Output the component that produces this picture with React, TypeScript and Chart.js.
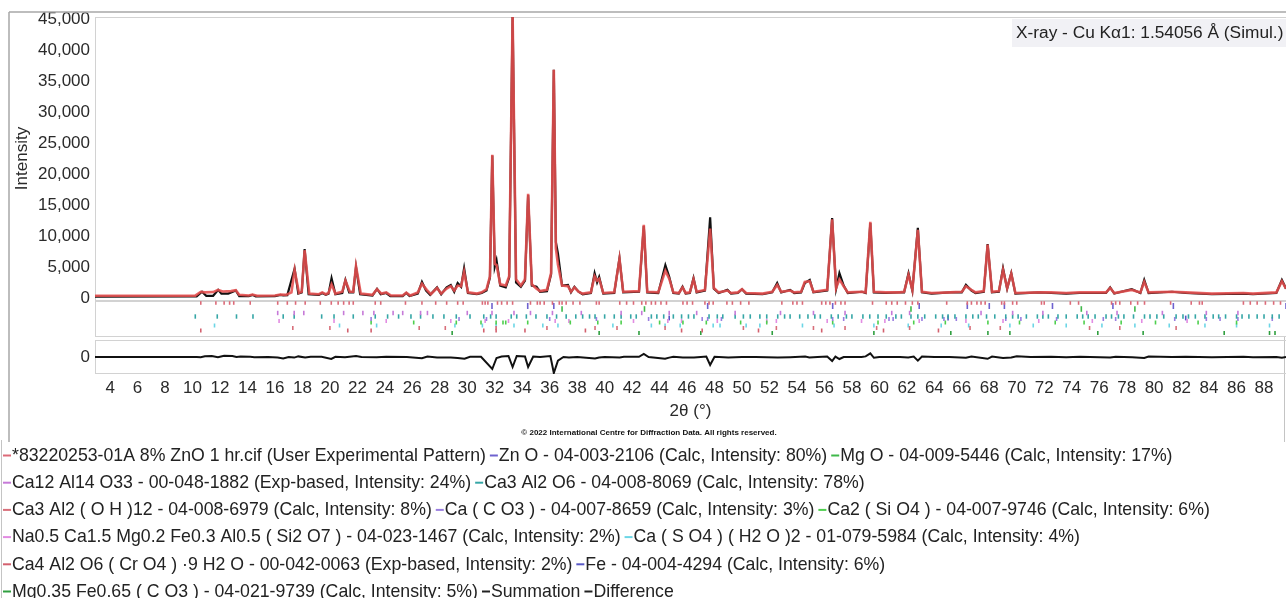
import React, { useEffect, useRef } from 'react';
import { Chart, registerables } from 'chart.js';

Chart.register(...registerables);

const FONT = '"Liberation Sans", Arial, Helvetica, sans-serif';

// ---------- axis ticks ----------
const X_TICKS = [4, 6, 8, 10, 12, 14, 16, 18, 20, 22, 24, 26, 28, 30, 32, 34, 36, 38, 40, 42, 44, 46, 48, 50, 52, 54, 56, 58, 60, 62, 64, 66, 68, 70, 72, 74, 76, 78, 80, 82, 84, 86, 88];
const Y_TICKS = [0, 5000, 10000, 15000, 20000, 25000, 30000, 35000, 40000, 45000];
const DIFF_TICKS = [0];

// ---------- patterns: [2θ, intensity] ----------
const EXP_PATTERN: [number, number][] = [
  [2.9, 350], [10.2, 380], [10.6, 1000], [10.9, 900], [11.5, 950], [11.85, 1300], [12.2, 1050], [12.8, 1100], [13.15, 1250], [13.4, 500],
  [14.1, 400], [14.36, 550], [14.7, 350], [16.0, 400], [16.4, 550], [16.8, 500], [17.2, 900], [17.43, 4500], [17.75, 800], [17.95, 1000],
  [18.16, 7700], [18.5, 700], [19.2, 600], [19.44, 900], [19.7, 600], [19.9, 800], [20.12, 2200], [20.4, 700], [20.9, 1000], [21.13, 2800],
  [21.45, 1000], [21.7, 1000], [21.9, 5100], [22.25, 700], [23.1, 500], [23.43, 1400], [23.75, 700], [24.1, 900], [24.45, 400], [25.3, 400],
  [25.56, 850], [25.85, 400], [26.4, 900], [26.7, 2300], [27.05, 1300], [27.35, 600], [27.8, 1600], [28.1, 700], [28.5, 1500], [28.8, 1900],
  [29.05, 1200], [29.3, 2000], [29.55, 1900], [29.77, 4200], [30.05, 900], [30.7, 700], [31.05, 900], [31.4, 1400], [31.65, 3500], [31.82, 23100],
  [32.0, 5500], [32.13, 5300], [32.4, 2200], [32.8, 2000], [33.05, 3500], [33.3, 45600], [33.55, 3000], [33.9, 2000], [34.2, 3000], [34.43, 16800],
  [34.7, 2200], [35.04, 1500], [35.3, 1100], [35.8, 1300], [36.1, 4000], [36.3, 36800], [36.45, 8000], [36.6, 5400], [36.9, 2000], [37.33, 1900],
  [37.55, 1000], [37.8, 1700], [38.1, 1000], [38.4, 700], [39.0, 900], [39.27, 3500], [39.45, 2800], [39.6, 3100], [39.9, 800], [40.7, 900],
  [41.08, 6300], [41.35, 1000], [42.5, 1100], [42.85, 11800], [43.1, 1000], [43.9, 900], [44.42, 4400], [44.7, 3100], [45.0, 900], [45.4, 800],
  [45.67, 1700], [45.9, 800], [46.2, 900], [46.47, 3000], [46.7, 1000], [47.3, 1300], [47.68, 11200], [47.95, 1600], [48.3, 900], [48.94, 1200],
  [49.2, 800], [49.7, 900], [50.0, 1400], [50.3, 800], [51.5, 700], [52.2, 1000], [52.56, 2100], [52.85, 1000], [53.5, 1200], [53.8, 900],
  [54.3, 1000], [54.57, 2600], [54.93, 2700], [55.2, 1000], [56.2, 1300], [56.56, 12700], [56.85, 1600], [57.09, 3000], [57.4, 1900], [57.7, 900],
  [58.73, 1000], [59.0, 900], [59.34, 12300], [59.6, 1000], [60.47, 900], [61.47, 900], [61.8, 1000], [62.12, 3700], [62.4, 1300], [62.8, 11000],
  [63.1, 1000], [63.8, 800], [65.14, 900], [66.0, 1000], [66.3, 1900], [66.7, 1300], [67.0, 900], [67.6, 1100], [67.88, 8600], [68.2, 1000],
  [68.7, 1100], [69.0, 4500], [69.3, 1600], [69.6, 3900], [69.9, 800], [71.66, 900], [72.5, 900], [73.6, 800], [74.57, 900], [76.5, 900],
  [76.8, 1600], [77.1, 800], [78.37, 1300], [79.0, 900], [79.28, 2600], [79.6, 900], [81.3, 1000], [82.3, 900], [84.2, 700], [86.5, 800],
  [87.2, 700], [88.9, 900], [89.3, 2700], [89.6, 1500],
];

const SUM_PATTERN: [number, number][] = [
  [2.9, 200], [10.3, 250], [10.69, 1000], [11.0, 350], [11.5, 350], [11.87, 1300], [12.1, 700], [12.6, 700], [13.15, 1200], [13.4, 300],
  [14.1, 300], [14.36, 500], [14.6, 250], [16.0, 300], [16.4, 500], [16.6, 400], [16.9, 450], [17.43, 4700], [17.7, 700], [17.95, 900],
  [18.16, 7900], [18.45, 600], [19.2, 500], [19.44, 800], [19.7, 500], [19.9, 700], [20.12, 3200], [20.4, 600], [20.9, 800], [21.13, 2900],
  [21.4, 900], [21.7, 900], [21.9, 5000], [22.2, 600], [23.1, 400], [23.43, 1450], [23.7, 600], [24.1, 800], [24.4, 300], [25.3, 300],
  [25.56, 800], [25.8, 300], [26.4, 700], [26.7, 2600], [27.0, 1200], [27.3, 500], [27.8, 1700], [28.1, 600], [28.5, 1700], [28.8, 2100],
  [29.05, 1000], [29.3, 2400], [29.55, 1800], [29.77, 4800], [30.05, 800], [30.7, 600], [31.05, 800], [31.4, 1200], [31.65, 3300], [31.82, 23000],
  [32.0, 5000], [32.13, 6100], [32.4, 2000], [32.8, 1700], [33.05, 3300], [33.3, 45600], [33.55, 2500], [33.9, 1800], [34.2, 2800], [34.43, 16600],
  [34.7, 2000], [35.04, 1800], [35.3, 1000], [35.8, 1100], [36.1, 3800], [36.3, 36800], [36.45, 9000], [36.6, 7200], [36.9, 2000], [37.33, 2100],
  [37.55, 900], [37.8, 1800], [38.1, 1000], [38.4, 600], [39.0, 800], [39.27, 4000], [39.45, 2500], [39.6, 3400], [39.9, 700], [40.7, 800],
  [41.08, 6400], [41.35, 900], [42.5, 1000], [42.85, 11600], [43.1, 900], [43.9, 800], [44.42, 5300], [44.7, 3400], [45.0, 800], [45.4, 700],
  [45.67, 1800], [45.9, 700], [46.2, 800], [46.47, 3200], [46.7, 900], [47.3, 1200], [47.68, 13000], [47.95, 1500], [48.3, 800], [48.94, 1300],
  [49.2, 700], [49.7, 800], [50.0, 1400], [50.3, 700], [51.5, 600], [52.2, 900], [52.56, 2400], [52.85, 900], [53.5, 1300], [53.8, 800],
  [54.3, 900], [54.57, 2400], [54.93, 2900], [55.2, 900], [56.2, 1200], [56.56, 12900], [56.85, 1500], [57.09, 4000], [57.4, 2000], [57.7, 800],
  [58.73, 1000], [59.0, 800], [59.34, 12100], [59.6, 900], [60.47, 800], [61.47, 900], [61.8, 900], [62.12, 4000], [62.4, 1200], [62.8, 11300],
  [63.1, 900], [63.8, 700], [65.14, 900], [66.0, 900], [66.3, 2100], [66.7, 1200], [67.0, 800], [67.6, 1000], [67.88, 8700], [68.2, 900],
  [68.7, 1000], [69.0, 4800], [69.3, 1500], [69.6, 4000], [69.9, 700], [71.66, 900], [72.5, 800], [73.6, 700], [74.57, 800], [76.5, 800],
  [76.8, 1700], [77.1, 700], [78.37, 1400], [79.0, 800], [79.28, 2900], [79.6, 800], [81.3, 1000], [82.3, 800], [84.2, 600], [86.5, 700],
  [87.2, 600], [88.9, 800], [89.3, 2900], [89.6, 1500],
];

const DIFF_PATTERN: [number, number][] = [
  [2.9, 0], [10.3, 0], [10.6, -100], [10.9, 400], [11.4, 500], [11.85, -100], [12.3, 600], [12.9, 500], [13.2, 0], [13.5, 200],
  [14.2, 100], [14.5, -100], [15.5, 0], [16.2, -200], [16.6, -700], [17.0, 0], [17.4, -300], [17.7, 300], [18.2, -300], [18.6, 100],
  [19.4, 100], [20.1, -1000], [20.4, 100], [21.1, -100], [21.9, 500], [22.3, 0], [23.4, -100], [24.1, 100], [25.6, 0], [26.7, -600],
  [27.1, 200], [27.8, -200], [28.5, -300], [28.8, -300], [29.3, -500], [29.8, -900], [30.2, 100], [31.0, 100], [31.82, -6000], [32.13, -500],
  [32.5, 200], [33.0, 500], [33.3, -5000], [33.6, 500], [34.2, 300], [34.43, -5000], [34.8, 200], [35.3, 0], [36.05, 500], [36.3, -8000],
  [36.6, -1800], [37.0, 0], [37.4, -300], [38.0, 0], [39.3, -700], [39.6, -300], [40.0, 0], [41.1, -200], [41.4, 100], [42.5, 100],
  [42.85, 1500], [43.2, 0], [44.4, -900], [44.7, -300], [45.0, 100], [45.7, -200], [46.5, -300], [47.0, 0], [47.4, 200], [47.68, -4000],
  [48.0, 100], [49.0, -200], [50.0, 0], [51.0, 0], [52.6, -300], [53.5, -100], [54.6, 200], [54.9, -200], [55.5, 0], [56.2, 200],
  [56.56, -2000], [56.8, 200], [57.09, -1000], [57.4, 0], [58.7, 0], [59.0, 300], [59.34, 1800], [59.6, -400], [60.0, 0], [61.5, 0],
  [62.1, -300], [62.5, 200], [62.8, -1800], [63.1, 200], [64.0, 0], [65.1, 0], [66.3, -400], [66.7, 200], [67.88, -900], [68.2, 200],
  [69.0, -500], [69.6, -200], [70.0, 400], [71.0, 0], [72.5, 100], [73.6, -100], [74.6, 100], [76.8, -200], [77.2, 100], [78.4, -100],
  [79.28, -500], [79.6, 200], [81.3, 0], [82.3, 100], [84.2, -100], [86.5, 100], [87.2, -100], [88.9, 0], [89.3, -400], [89.6, 0],
];

// ---------- reference stick positions (2θ) ----------
const EXP_PEAKS = [10.6, 11.7, 12.3, 12.7, 13.0, 14.2, 16.2, 16.9, 17.5, 18.2, 19.3, 20.1, 20.6, 21.0, 21.4, 21.7, 23.3, 23.7, 25.5, 26.7, 27.7, 28.5, 29.3, 29.7, 31.1, 31.3, 31.5, 32.2, 32.5, 32.9, 33.3, 34.6, 35.1, 35.3, 35.6, 36.2, 36.7, 36.9, 37.2, 37.7, 38.2, 39.4, 39.6, 41.1, 41.6, 42.1, 42.7, 43.0, 43.4, 43.7, 44.1, 44.5, 45.7, 46.0, 46.4, 47.3, 47.6, 47.9, 48.9, 49.3, 49.9, 50.5, 52.9, 53.7, 54.0, 54.4, 55.8, 56.1, 56.4, 56.8, 57.2, 57.5, 59.5, 60.5, 60.9, 61.3, 61.9, 62.4, 62.8, 64.9, 66.4, 66.7, 67.1, 67.4, 67.7, 68.9, 69.1, 69.7, 70.0, 71.8, 72.0, 73.9, 74.5, 76.9, 77.2, 77.5, 78.3, 78.8, 79.3, 81.2, 82.7, 83.3, 83.5, 86.5, 87.0, 87.5, 88.1, 88.7, 89.2];
const ZNO_PEAKS = [31.8, 34.4, 36.3, 47.5, 56.6, 62.9, 66.4, 68.0, 69.1, 72.6, 77.0, 81.4, 89.6];
const MGO_PEAKS = [36.9, 42.9, 62.3, 74.7, 78.6];
const MAYENITE_PEAKS = [16.2, 17.4, 18.1, 21.0, 22.4, 23.2, 24.6, 25.3, 26.6, 27.1, 30.0, 31.8, 33.4, 34.6, 36.2, 38.3, 41.2, 42.7, 44.7, 46.7, 49.5, 52.8, 55.2, 57.5, 60.9, 62.2, 67.4, 69.7, 71.9, 75.1, 77.3, 80.6, 83.8, 86.1];
const C3A_PEAKS = [10.2, 11.8, 13.2, 14.4, 16.6, 17.4, 19.4, 20.3, 21.7, 23.3, 24.2, 25.0, 25.9, 26.6, 27.5, 28.3, 29.2, 30.2, 31.2, 31.7, 32.1, 33.2, 33.6, 34.3, 35.0, 35.8, 36.5, 37.2, 37.9, 38.4, 38.9, 39.3, 40.0, 40.7, 41.2, 41.9, 42.3, 43.4, 43.8, 44.3, 45.0, 45.6, 46.1, 46.5, 47.6, 48.2, 48.6, 49.5, 50.1, 50.6, 51.3, 51.8, 52.6, 53.1, 53.5, 54.2, 54.8, 55.3, 55.7, 56.5, 57.0, 57.6, 58.0, 58.8, 59.3, 59.9, 60.5, 61.2, 61.6, 62.3, 62.8, 63.3, 64.1, 64.6, 65.0, 65.5, 66.3, 66.8, 67.2, 67.8, 68.4, 69.2, 69.7, 70.1, 70.7, 71.5, 71.9, 72.3, 73.0, 73.6, 74.4, 74.8, 75.2, 75.7, 76.5, 76.9, 77.4, 77.8, 78.5, 79.3, 79.7, 80.2, 80.7, 81.6, 82.1, 82.5, 83.0, 83.7, 84.3, 84.7, 85.2, 86.0, 86.4, 86.9, 87.5, 88.0, 88.6, 89.1];
const KATOITE_PEAKS = [17.3, 20.0, 26.5, 28.4, 32.1, 35.8, 39.3, 40.9, 44.4, 50.1, 52.5, 55.2, 57.5, 59.8, 62.2, 66.6, 68.8, 75.3, 77.5, 81.6];
const CALCITE_PEAKS = [23.0, 29.4, 31.4, 36.0, 39.4, 43.2, 47.1, 47.5, 48.5, 56.6, 57.4, 60.7, 61.0, 63.1, 64.7, 65.6, 69.2, 70.3, 72.9, 76.3, 77.2, 81.5, 83.8, 84.8, 86.1, 88.6];
const C2S_PEAKS = [23.0, 26.1, 29.2, 31.0, 32.1, 32.6, 32.8, 34.4, 37.5, 39.5, 41.2, 44.0, 45.7, 47.4, 49.9, 51.8, 56.6, 59.9, 62.5, 64.8, 67.9, 70.2, 72.8, 74.9, 77.6, 80.1, 83.2, 86.0];
const MELILITE_PEAKS = [16.3, 20.3, 24.1, 28.8, 31.3, 33.0, 36.4, 37.4, 42.1, 44.6, 45.6, 48.2, 51.8, 52.5, 56.2, 58.7, 60.4, 62.9, 66.3, 69.0, 71.6, 75.5, 79.1, 82.4];
const GYPSUM_PEAKS = [11.6, 20.7, 23.4, 29.1, 31.1, 32.1, 33.4, 35.5, 36.6, 40.6, 43.4, 44.4, 45.5, 47.9, 48.4, 50.3, 51.3, 54.4, 56.7, 59.6, 62.1, 64.5, 66.5, 69.5, 71.2, 73.6, 76.2, 78.6, 81.1, 83.7, 86.0, 88.4];
const CR_AFM_PEAKS = [10.6, 21.3, 23.0, 31.2, 32.1, 34.2, 38.6, 45.6, 47.1, 51.2, 55.8, 60.3, 64.3];
const FE_PEAKS = [44.7, 65.0, 82.3];
const MGFE_CARB_PEAKS = [28.9, 39.6, 42.5, 47.0, 52.2, 59.6, 65.2, 67.9, 69.5, 75.9, 79.2, 85.1, 88.4, 88.8];

// ---------- phases (legend order) ----------
const PHASE_NAMES = [
  '*83220253-01A 8% ZnO 1 hr.cif (User Experimental Pattern)',
  'Zn O - 04-003-2106 (Calc, Intensity: 80%)',
  'Mg O - 04-009-5446 (Calc, Intensity: 17%)',
  'Ca12 Al14 O33 - 00-048-1882 (Exp-based, Intensity: 24%)',
  'Ca3 Al2 O6 - 04-008-8069 (Calc, Intensity: 78%)',
  'Ca3 Al2 ( O H )12 - 04-008-6979 (Calc, Intensity: 8%)',
  'Ca ( C O3 ) - 04-007-8659 (Calc, Intensity: 3%)',
  'Ca2 ( Si O4 ) - 04-007-9746 (Calc, Intensity: 6%)',
  'Na0.5 Ca1.5 Mg0.2 Fe0.3 Al0.5 ( Si2 O7 ) - 04-023-1467 (Calc, Intensity: 2%)',
  'Ca ( S O4 ) ( H2 O )2 - 01-079-5984 (Calc, Intensity: 4%)',
  'Ca4 Al2 O6 ( Cr O4 ) ·9 H2 O - 00-042-0063 (Exp-based, Intensity: 2%)',
  'Fe - 04-004-4294 (Calc, Intensity: 6%)',
  'Mg0.35 Fe0.65 ( C O3 ) - 04-021-9739 (Calc, Intensity: 5%)',
];
const PHASE_PEAKS = [EXP_PEAKS, ZNO_PEAKS, MGO_PEAKS, MAYENITE_PEAKS, C3A_PEAKS, KATOITE_PEAKS, CALCITE_PEAKS, C2S_PEAKS, MELILITE_PEAKS, GYPSUM_PEAKS, CR_AFM_PEAKS, FE_PEAKS, MGFE_CARB_PEAKS];
const PHASE_COLORS = ['#dc6a78', '#6e62cf', '#3fb84a', '#c67ad8', '#35a6a6', '#d86f7a', '#9a7ee0', '#4ecf4e', '#e28ce2', '#6cd6e6', '#d3606e', '#5858c6', '#2f9f3f'];
// vertical row (px offset inside the stick band) and stick half-length
const PHASE_ROWS = [3, 6, 9, 13, 16.5, 28, 19, 22.5, 21, 25.5, 30.5, 18, 33];
const PHASE_HALF = [1.8, 3, 2.8, 2.2, 2.2, 2, 2, 2, 2, 2, 2, 2.4, 2];

const LEGEND_ROWS = [[0, 1, 2], [3, 4], [5, 6, 7], [8, 9], [10, 11], [12, 13, 14]];
const EXTRA_LEGEND = [{ label: 'Summation', color: '#222222' }, { label: 'Difference', color: '#222222' }];

const toXY = (arr: [number, number][]) => arr.map(([x, y]) => ({ x, y }));

const decorPlugin = {
  id: 'xrdDecor',
  beforeDatasetsDraw(chart: any) {
    const { ctx, chartArea, scales } = chart;
    const L = chartArea.left;
    const R = chartArea.right;
    ctx.save();
    // outer frame lines
    ctx.strokeStyle = '#a8a8a8';
    ctx.lineWidth = 1.5;
    ctx.beginPath();
    ctx.moveTo(9, 12); ctx.lineTo(1286, 12);
    ctx.moveTo(9, 12); ctx.lineTo(9, 442);
    ctx.stroke();
    ctx.strokeStyle = '#c4c4c4';
    ctx.lineWidth = 1;
    ctx.beginPath();
    ctx.moveTo(1.5, 440); ctx.lineTo(1.5, 598);
    ctx.moveTo(1284.5, 337); ctx.lineTo(1284.5, 442);
    ctx.stroke();
    // panels
    ctx.strokeStyle = '#d2d2d2';
    ctx.lineWidth = 1;
    const y = scales.y, r = scales.yRef, d = scales.yDiff;
    ctx.strokeRect(L + 0.5, y.top + 0.5, R - L + 2, y.bottom - y.top);
    ctx.strokeRect(L + 0.5, r.top + 1.5, R - L + 2, r.bottom - r.top - 2);
    ctx.strokeRect(L + 0.5, d.top + 3.5, R - L + 2, d.bottom - d.top - 4);
    // wavelength label
    ctx.fillStyle = '#f1f1f5';
    ctx.fillRect(1012, 19, 274, 28);
    ctx.fillStyle = '#222';
    ctx.font = '17.3px ' + FONT;
    ctx.textBaseline = 'middle';
    ctx.textAlign = 'left';
    ctx.fillText('X-ray - Cu K\u03b11: 1.54056 \u00c5 (Simul.)', 1016, 33.5);
    ctx.restore();
  },
  afterDraw(chart: any) {
    const { ctx } = chart;
    ctx.save();
    // copyright
    ctx.fillStyle = '#111';
    ctx.font = 'bold 8px ' + FONT;
    ctx.textAlign = 'center';
    ctx.textBaseline = 'middle';
    ctx.fillText('\u00a9 2022 International Centre for Diffraction Data. All rights reserved.', 649, 433);
    // legend
    ctx.font = '17.7px ' + FONT;
    ctx.textAlign = 'left';
    const items = PHASE_NAMES.map((label, i) => ({ label, color: PHASE_COLORS[i] })).concat(EXTRA_LEGEND);
    LEGEND_ROWS.forEach((row, ri) => {
      let x = 3;
      const yy = 455 + ri * 27.2;
      row.forEach((idx) => {
        const it = items[idx];
        ctx.strokeStyle = it.color;
        ctx.lineWidth = 2;
        ctx.beginPath();
        ctx.moveTo(x, yy + 0.5);
        ctx.lineTo(x + 8, yy + 0.5);
        ctx.stroke();
        ctx.fillStyle = '#222';
        ctx.fillText(it.label, x + 9, yy + 1);
        x += 9 + ctx.measureText(it.label).width + 4;
      });
    });
    ctx.restore();
  },
};

export default function App() {
  const ref = useRef<HTMLCanvasElement>(null);
  useEffect(() => {
    const canvas = ref.current;
    if (!canvas) return;
    const tickFont = { family: FONT, size: 17 };
    const stickSets = PHASE_PEAKS.map((peaks, i) => ({
      type: 'scatter' as const,
      label: PHASE_NAMES[i],
      data: peaks.map((x) => ({ x, y: PHASE_ROWS[i] })),
      yAxisID: 'yRef',
      showLine: false,
      pointStyle: 'line',
      pointRotation: 90,
      pointRadius: PHASE_HALF[i],
      pointHoverRadius: PHASE_HALF[i],
      pointBorderWidth: 1.6,
      pointBorderColor: PHASE_COLORS[i],
      borderColor: PHASE_COLORS[i],
      backgroundColor: PHASE_COLORS[i],
    }));
    const chart = new Chart(canvas, {
      type: 'line',
      data: {
        datasets: [
          {
            label: 'Experimental',
            data: toXY(EXP_PATTERN),
            yAxisID: 'y',
            borderColor: 'rgba(230,78,78,0.88)',
            borderWidth: 2.6,
            pointRadius: 0,
            tension: 0,
          },
          {
            label: 'Summation',
            data: toXY(SUM_PATTERN),
            yAxisID: 'y',
            borderColor: '#111111',
            borderWidth: 2.2,
            pointRadius: 0,
            tension: 0,
          },
          {
            label: 'Difference',
            data: toXY(DIFF_PATTERN),
            yAxisID: 'yDiff',
            borderColor: '#111111',
            borderWidth: 2,
            pointRadius: 0,
            tension: 0,
          },
          ...stickSets,
        ] as any,
      },
      options: {
        responsive: false,
        animation: false,
        events: [],
        layout: { autoPadding: false, padding: { left: 8, top: 17, right: 0, bottom: 178.6 } },
        plugins: { legend: { display: false }, tooltip: { enabled: false }, title: { display: false } },
        scales: {
          x: {
            type: 'linear',
            position: 'bottom',
            min: 2.9,
            max: 89.6,
            grid: { display: false, drawTicks: false },
            border: { display: false },
            afterBuildTicks: (s: any) => { s.ticks = X_TICKS.map((value) => ({ value })); },
            ticks: { padding: 4, color: '#2a2a2a', font: tickFont, maxRotation: 0, autoSkip: false },
            title: { display: true, text: '2\u03b8 (\u00b0)', color: '#2a2a2a', font: { family: FONT, size: 17, lineHeight: 1 }, padding: { top: 0, bottom: 0 } },
          },
          y: {
            type: 'linear',
            position: 'left',
            stack: 'xrd',
            stackWeight: 283,
            weight: 3,
            min: -330,
            max: 45330,
            grid: { display: false, drawTicks: false },
            border: { display: false },
            afterBuildTicks: (s: any) => { s.ticks = Y_TICKS.map((value) => ({ value })); },
            afterFit: (s: any) => { s.width = 87; },
            ticks: { padding: 5, color: '#2a2a2a', font: tickFont, autoSkip: false },
            title: { display: true, text: 'Intensity', color: '#2a2a2a', font: tickFont, padding: { top: 4, bottom: 4 } },
          },
          yRef: {
            type: 'linear',
            position: 'left',
            stack: 'xrd',
            stackWeight: 37,
            weight: 2,
            min: 0,
            max: 37,
            reverse: true,
            grid: { display: false, drawTicks: false },
            border: { display: false },
            afterFit: (s: any) => { s.width = 87; },
            ticks: { display: false },
          },
          yDiff: {
            type: 'linear',
            position: 'left',
            stack: 'xrd',
            stackWeight: 37,
            weight: 1,
            min: -8500,
            max: 10000,
            grid: { display: false, drawTicks: false },
            border: { display: false },
            afterBuildTicks: (s: any) => { s.ticks = DIFF_TICKS.map((value) => ({ value })); },
            afterFit: (s: any) => { s.width = 87; },
            ticks: { padding: 5, color: '#2a2a2a', font: tickFont },
          },
        },
      } as any,
      plugins: [decorPlugin],
    });
    return () => chart.destroy();
  }, []);
  return (
    <div style={{ position: 'fixed', left: 0, top: 0, width: 1286, height: 598, background: '#fff', overflow: 'hidden' }}>
      <canvas ref={ref} width={1286} height={598} style={{ display: 'block', width: 1286, height: 598 }} />
    </div>
  );
}
